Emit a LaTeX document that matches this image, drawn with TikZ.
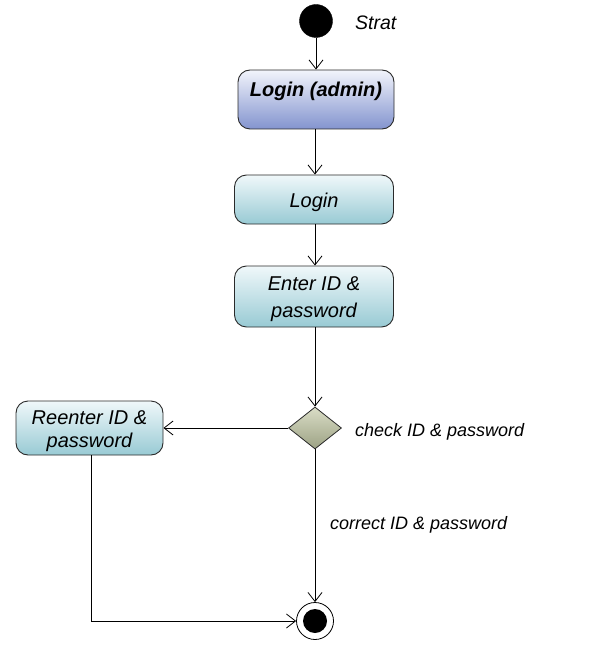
\documentclass[tikz,border=0pt]{standalone}
\usepackage{fontspec}
\setmainfont{Liberation Sans}
\usetikzlibrary{arrows.meta,shapes.geometric}
\definecolor{adtop}{HTML}{F2F4FB}
\definecolor{adbot}{HTML}{8394CF}
\definecolor{tltop}{HTML}{F0F8FA}
\definecolor{tlbot}{HTML}{98CAD4}
\definecolor{dmtop}{HTML}{DADDC6}
\definecolor{dmbot}{HTML}{9CA284}
\definecolor{edge}{HTML}{2A2A2A}
\tikzset{
  flow/.style={draw=black, line width=0.8pt, -{Straight Barb[length=9pt,width=14pt,line width=0.8pt]}},
  plain/.style={draw=black, line width=0.8pt},
  actbox/.style={draw=edge, line width=0.9pt, rounded corners=12pt, inner sep=0pt,
    top color=tltop, bottom color=tlbot},
  acttext/.style={align=center, inner sep=0pt, font=\fontsize{20}{27}\selectfont\itshape},
  lbl/.style={font=\fontsize{18}{22}\selectfont\itshape, anchor=west, inner sep=0pt},
}
\begin{document}
\begin{tikzpicture}[x=1pt,y=-1pt]
\useasboundingbox (0,0) rectangle (605,668);
% start
\node[circle, fill=black, draw=black, minimum size=33pt, inner sep=0pt] (s) at (316,21) {};
\node[font=\fontsize{19.5}{22}\selectfont\itshape, anchor=west, inner sep=0pt] (st) at (355,23) {Strat};
% boxes
\node[actbox, top color=adtop, bottom color=adbot, minimum width=156pt, minimum height=59pt] (la) at (316,99.5) {};
\node[acttext, font=\fontsize{20}{25}\selectfont\bfseries\itshape] (lat) at (316,91) {Login (admin)};
\node[actbox, minimum width=159pt, minimum height=49pt] (l) at (314,199.5) {};
\node[acttext] (lt) at (314,202) {Login};
\node[actbox, minimum width=159pt, minimum height=61pt] (e) at (314,296.5) {};
\node[acttext] (et) at (314,299) {Enter ID \&\\password};
\node[actbox, minimum width=147pt, minimum height=54pt] (r) at (89.5,428) {};
\node[acttext, font=\fontsize{20}{23.5}\selectfont\itshape] (rt) at (89.5,431) {Reenter ID \&\\password};
% decision
\node[diamond, draw=edge, line width=0.8pt, top color=dmtop, bottom color=dmbot,
  minimum width=53pt, minimum height=42pt, inner sep=0pt] (d) at (315,428) {};
\node[lbl] (cl) at (355,432) {check ID \& password};
\node[lbl] (cc) at (330,525) {correct ID \& password};
% end
\node[circle, draw=black, line width=0.8pt, fill=white, minimum size=37pt, inner sep=0pt] (f) at (315,621) {};
\node[circle, fill=black, minimum size=24pt, inner sep=0pt] (fi) at (315,621) {};
% connectors
\draw[flow] (s.south) -- (s.south |- la.north);
\draw[flow] (la.south -| 315,0) -- (315,0 |- l.north);
\draw[flow] (l.south -| 315,0) -- (315,0 |- e.north);
\draw[flow] (e.south -| 315,0) -- (d.north);
\draw[flow] (d.west) -- (r.east);
\draw[flow] (d.south) -- (f.north);
\coordinate (c1) at (91,621);
\draw[plain] (r.south -| c1) -- (c1);
\draw[flow] (c1) -- (f.west);
\end{tikzpicture}
\end{document}
